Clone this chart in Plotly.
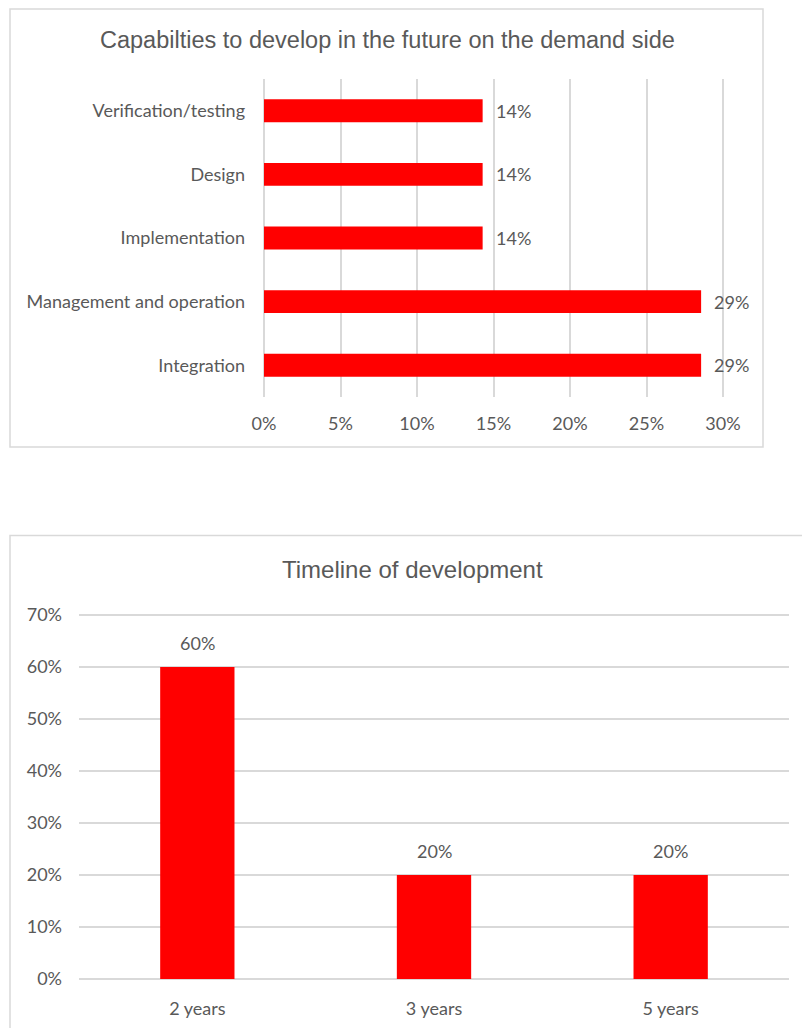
import plotly.graph_objects as go

# Capabilities chart (horizontal bars)
capabilities = ["Integration", "Management and operation", "Implementation",
                "Design", "Verification/testing"]
capability_share = [0.2857, 0.2857, 0.1429, 0.1429, 0.1429]
capability_ticks = [0, 0.05, 0.10, 0.15, 0.20, 0.25, 0.30]

# Timeline chart (vertical bars)
timeline = ["2 years", "3 years", "5 years"]
timeline_share = [0.60, 0.20, 0.20]
timeline_ticks = [0, 0.1, 0.2, 0.3, 0.4, 0.5, 0.6, 0.7]

W, H = 802, 1028
RED = "#FF0000"
TXT = "#595959"
GRID = "#D9D9D9"
LABEL_FONT = "Lato"
TITLE_FONT = "Liberation Sans, Arial"


def px_x(x):
    return x / W


def px_y(y):
    return 1 - y / H


def padded(lo, hi, p0, p1, pad_px):
    """Extend a value range (and its pixel span) by a few pixels so the
    gridlines sitting on the first and last ticks are still drawn."""
    per_px = (hi - lo) / abs(p1 - p0)
    return [lo - pad_px * per_px, hi + pad_px * per_px]


fig = go.Figure()

fig.add_trace(go.Bar(
    x=capability_share, y=capabilities, orientation="h",
    marker=dict(color=RED, line=dict(width=0)),
    width=0.36, xaxis="x", yaxis="y", showlegend=False, hoverinfo="x+y",
))
fig.add_trace(go.Bar(
    x=timeline, y=timeline_share,
    marker=dict(color=RED, line=dict(width=0)),
    width=0.314, xaxis="x2", yaxis="y2", showlegend=False, hoverinfo="x+y",
))

annotations = []
for cat, v in zip(capabilities, capability_share):
    annotations.append(dict(
        x=v, y=cat, xref="x", yref="y", text=f"{v:.0%}", showarrow=False,
        xanchor="left", yanchor="middle", xshift=11,
        font=dict(family=LABEL_FONT, size=18, color=TXT),
    ))
for cat, v in zip(timeline, timeline_share):
    annotations.append(dict(
        x=cat, y=v, xref="x2", yref="y2", text=f"{v:.0%}", showarrow=False,
        xanchor="center", yanchor="bottom", yshift=11,
        font=dict(family=LABEL_FONT, size=18, color=TXT),
    ))

annotations.append(dict(
    x=px_x(387), y=px_y(40), xref="paper", yref="paper",
    text="Capabilties to develop in the future on the demand side",
    showarrow=False, xanchor="center", yanchor="middle",
    font=dict(family=TITLE_FONT, size=23.5, color=TXT),
))
annotations.append(dict(
    x=px_x(413), y=px_y(569), xref="paper", yref="paper",
    text="Timeline of development",
    showarrow=False, xanchor="center", yanchor="middle",
    font=dict(family=TITLE_FONT, size=24, color=TXT),
))

shapes = [
    dict(type="rect", xref="paper", yref="paper",
         x0=px_x(10), x1=px_x(763), y0=px_y(447), y1=px_y(9),
         line=dict(color=GRID, width=1.5), fillcolor="rgba(0,0,0,0)", layer="below"),
    dict(type="rect", xref="paper", yref="paper",
         x0=px_x(10), x1=px_x(830), y0=px_y(1045), y1=px_y(535.5),
         line=dict(color=GRID, width=1.5), fillcolor="rgba(0,0,0,0)", layer="below"),
]

tick_font = dict(family=LABEL_FONT, size=18, color=TXT)
PAD = 2

x1_left, x1_right = 264, 723
y2_top, y2_bottom = 615, 979

fig.update_layout(
    width=W, height=H,
    margin=dict(l=0, r=0, t=0, b=0, autoexpand=False),
    paper_bgcolor="white", plot_bgcolor="white",
    annotations=annotations, shapes=shapes,
    xaxis=dict(
        domain=[px_x(x1_left - PAD), px_x(x1_right + PAD)],
        range=padded(0, 0.30, x1_left, x1_right, PAD),
        tickvals=capability_ticks, tickformat=".0%",
        showgrid=True, gridcolor=GRID, gridwidth=1.5,
        zeroline=False, showline=False, ticks="",
        tickfont=tick_font, ticklabelstandoff=14, fixedrange=True,
        automargin=False, anchor="y",
    ),
    yaxis=dict(
        domain=[px_y(397), px_y(79)],
        categoryorder="array", categoryarray=capabilities,
        showgrid=False, zeroline=False, showline=False, ticks="",
        tickfont=tick_font, ticklabelstandoff=16, fixedrange=True,
        automargin=False, anchor="x",
    ),
    xaxis2=dict(
        domain=[px_x(79), px_x(789)],
        categoryorder="array", categoryarray=timeline,
        showgrid=False, zeroline=False, showline=False, ticks="",
        tickfont=tick_font, ticklabelstandoff=15, fixedrange=True,
        automargin=False, anchor="y2",
    ),
    yaxis2=dict(
        domain=[px_y(y2_bottom + PAD), px_y(y2_top - PAD)],
        range=padded(0, 0.70, y2_bottom, y2_top, PAD),
        tickvals=timeline_ticks, tickformat=".0%",
        showgrid=True, gridcolor=GRID, gridwidth=1.5,
        zeroline=False, showline=False, ticks="",
        tickfont=tick_font, ticklabelstandoff=16, fixedrange=True,
        automargin=False, anchor="x2",
    ),
)

fig.write_html("out.html")
